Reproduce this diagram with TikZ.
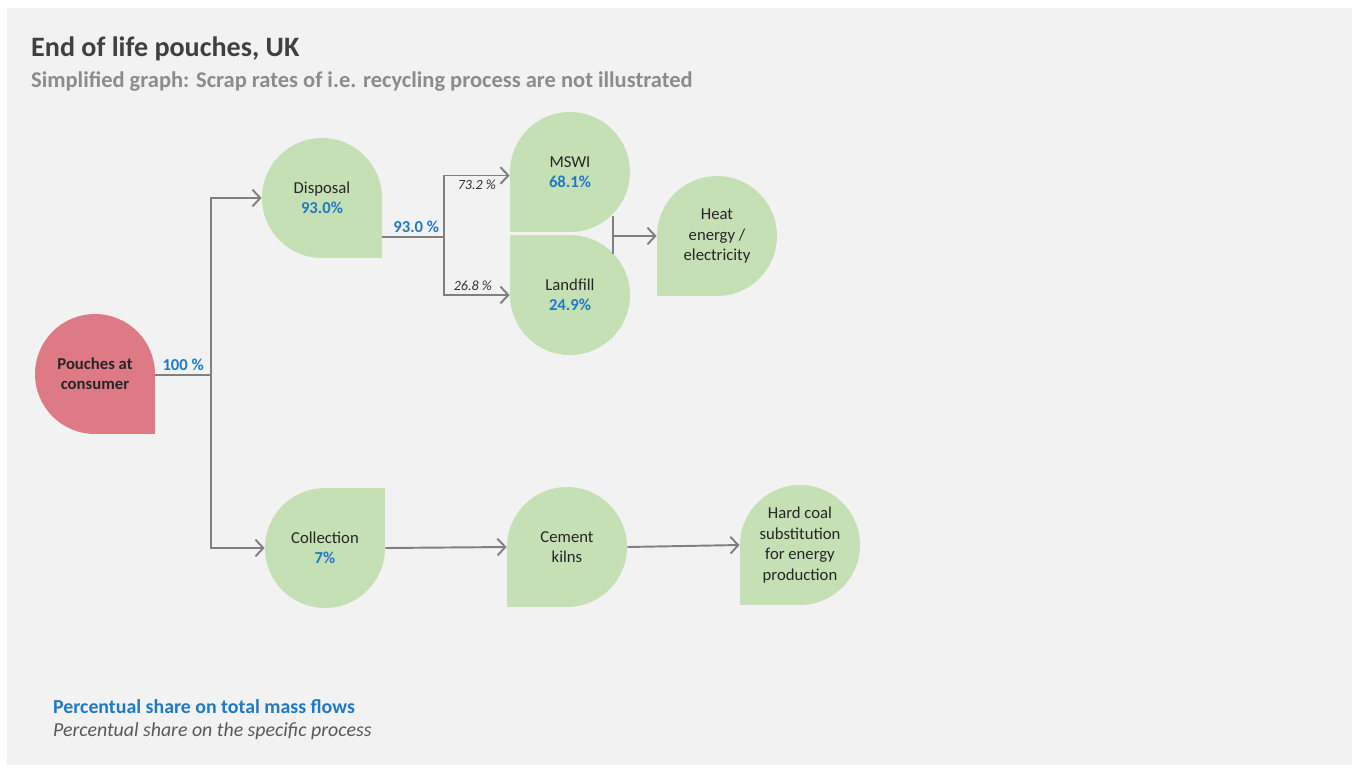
\documentclass[tikz,border=0pt]{standalone}
\usepackage{fontspec}
\setmainfont{Carlito}
\usetikzlibrary{arrows.meta}
\definecolor{bggray}{HTML}{F2F2F2}
\definecolor{leafgreen}{HTML}{C5E0B4}
\definecolor{rosered}{HTML}{DE7A86}
\definecolor{flowblue}{HTML}{1F7AC6}
\definecolor{linegray}{HTML}{808080}
\definecolor{titlegray}{HTML}{404040}
\definecolor{subgray}{HTML}{8C8C8C}
\definecolor{notegray}{HTML}{595959}

\begin{document}
\begin{tikzpicture}[x=0.02cm, y=-0.02cm,
  tear/.style={minimum width=2.4cm, minimum height=2.4cm, inner sep=0pt, align=center,
    font=\fontsize{9.5}{11.6}\selectfont, text=black!85},
  sharpSE/.style={tear, path picture={\fill[#1] (path picture bounding box.south east) -- (path picture bounding box.south) arc[start angle=270, end angle=0, radius=1.2cm] -- cycle;}},
  sharpSW/.style={tear, path picture={\fill[#1] (path picture bounding box.south west) -- (path picture bounding box.west) arc[start angle=180, end angle=-90, radius=1.2cm] -- cycle;}},
  sharpNW/.style={tear, path picture={\fill[#1] (path picture bounding box.north west) -- (path picture bounding box.north) arc[start angle=90, end angle=-180, radius=1.2cm] -- cycle;}},
  sharpNE/.style={tear, path picture={\fill[#1] (path picture bounding box.north east) -- (path picture bounding box.east) arc[start angle=0, end angle=-270, radius=1.2cm] -- cycle;}},
  flow/.style={draw=linegray, line width=1.1pt},
  arr/.style={flow, -{Straight Barb[length=4.5pt, width=9.5pt, line width=1.1pt]}},
  share/.style={text=flowblue, font=\fontsize{9.5}{11}\selectfont\bfseries, inner sep=2pt},
  part/.style={text=black!80, font=\fontsize{8}{10}\selectfont\itshape, inner sep=2pt},
]
\useasboundingbox (0,0) rectangle (1357,772);
\fill[bggray] (7,8) rectangle (1352,765);

\node[anchor=west, text=titlegray, font=\fontsize{16}{19}\selectfont\bfseries] (title) at (25,49) {End of life pouches, UK};
\node[anchor=west, text=subgray, font=\fontsize{12.8}{15}\selectfont\bfseries] (subtitle) at (25,81) {Simplified graph: Scrap rates of i.e. recycling process are not illustrated};

\node[sharpSE=rosered, font=\fontsize{9.5}{11.6}\selectfont\bfseries] (cons) at (95,374) {Pouches at\\consumer};
\node[sharpSE=leafgreen] (disp) at (322,198) {Disposal\\\textcolor{flowblue}{\bfseries 93.0\%}};
\node[sharpNE=leafgreen] (coll) at (325,548) {Collection\\\textcolor{flowblue}{\bfseries 7\%}};
\node[sharpSW=leafgreen] (mswi) at (570,172) {MSWI\\\textcolor{flowblue}{\bfseries 68.1\%}};
\node[sharpNW=leafgreen] (land) at (570,295) {Landfill\\\textcolor{flowblue}{\bfseries 24.9\%}};
\node[sharpSW=leafgreen] (heat) at (717,236) {Heat\\energy /\\electricity};
\node[sharpSW=leafgreen] (kiln) at (567,547) {Cement\\kilns};
\node[sharpSW=leafgreen] (coal) at (800,545) {Hard coal\\substitution\\for energy\\production};

\coordinate (split1) at (211,375);
\coordinate (split2) at (444,237);
\coordinate (jtop) at (613,216);
\coordinate (jbot) at (613,254);

\draw[flow] (cons.east |- split1) -- node[share, above] (p100) {100 \%} (split1);
\draw[arr] (split1) |- (disp.west);
\draw[arr] (split1) |- (coll.west);
\draw[flow] (disp.east |- split2) -- node[share, above, pos=0.55] (p930) {93.0 \%} (split2);
\draw[arr] (split2) |- node[part, below, pos=0.75] (p732) {73.2 \%} ([yshift=-2pt]mswi.west);
\draw[arr] (split2) |- node[part, above, pos=0.72] (p268) {26.8 \%} (land.west);
\draw[flow] (jtop) -- (jbot);
\draw[arr] (jtop |- heat.west) -- (heat.west);
\draw[arr] (coll.east) -- (kiln.west);
\draw[arr] (kiln.east) -- (coal.west);

\node[anchor=west, text=flowblue, font=\fontsize{11.3}{13}\selectfont\bfseries] (leg1) at (47,707) {Percentual share on total mass flows};
\node[anchor=west, text=notegray, font=\fontsize{11.3}{13}\selectfont\itshape] (leg2) at (47,731) {Percentual share on the specific process};
\end{tikzpicture}
\end{document}
